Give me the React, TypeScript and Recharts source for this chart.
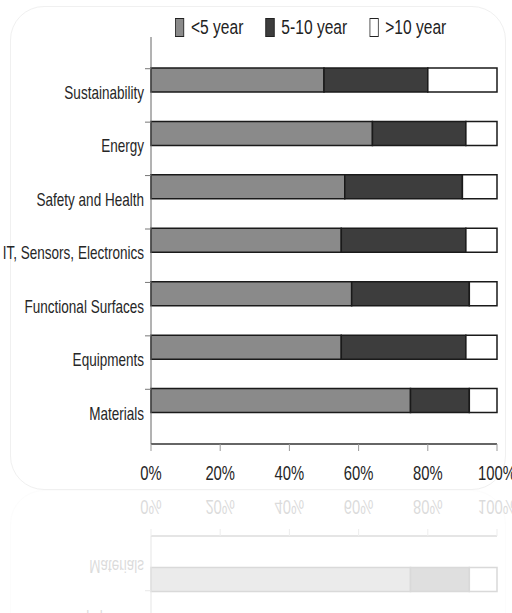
import { BarChart, Bar, XAxis, YAxis } from "recharts"

const categories = [
  "Sustainability",
  "Energy",
  "Safety and Health",
  "IT, Sensors, Electronics",
  "Functional Surfaces",
  "Equipments",
  "Materials",
]
const under5 = [50, 64, 56, 55, 58, 55, 75]
const from5to10 = [30, 27, 34, 36, 34, 36, 17]
const over10 = [20, 9, 10, 9, 8, 9, 8]
const xTicks = [0, 20, 40, 60, 80, 100]

const series = [
  { key: "under5", name: "<5 year", fill: "#8a8a8a" },
  { key: "from5to10", name: "5-10 year", fill: "#3d3d3d" },
  { key: "over10", name: ">10 year", fill: "#ffffff" },
]

const rows = categories.map((name, i) => ({
  name,
  under5: under5[i],
  from5to10: from5to10[i],
  over10: over10[i],
}))

const FONT = "'Liberation Sans', Arial, sans-serif"
// no narrow font installed, so squeeze the regular one
const SQUEEZE = 0.76

function CategoryTick(props: any) {
  const { x, y, payload } = props
  return (
    <g>
      <line x1={x} x2={x + 6} y1={y - 11} y2={y - 11} stroke="#777" strokeWidth={1} />
      <text
        transform={`translate(${x - 1},${y + 13}) scale(${SQUEEZE},1)`}
        dy="0.35em"
        textAnchor="end"
        fill="#262626"
        fontSize={17.8}
        fontFamily={FONT}
      >
        {payload.value}
      </text>
    </g>
  )
}

function PercentTick(props: any) {
  const { x, y, payload } = props
  return (
    <text
      transform={`translate(${x},${y}) scale(${SQUEEZE},1)`}
      dy="0.71em"
      textAnchor="middle"
      fill="#262626"
      fontSize={19.5}
      fontFamily={FONT}
    >
      {`${payload.value}%`}
    </text>
  )
}

function Legend() {
  return (
    <div
      style={{
        position: "absolute",
        top: 15,
        left: 175,
        display: "flex",
        alignItems: "center",
        fontFamily: FONT,
        fontSize: 20.5,
        color: "#222",
        whiteSpace: "nowrap",
        transform: `scaleX(${SQUEEZE})`,
        transformOrigin: "left center",
      }}
    >
      {series.map((s, i) => (
        <div key={s.key} style={{ display: "flex", alignItems: "center", marginRight: i < 2 ? 29 : 0 }}>
          <span
            style={{
              display: "inline-block",
              width: 10,
              height: 17,
              background: s.fill,
              border: "1.5px solid #222",
              marginRight: 9,
            }}
          />
          <span>{s.name}</span>
        </div>
      ))}
    </div>
  )
}

function Chart() {
  return (
    <div style={{ position: "relative", width: 512, height: 490 }}>
      <div
        style={{
          position: "absolute",
          left: 10,
          top: 6,
          width: 494,
          height: 482,
          border: "1px solid #f0f0f0",
          borderRadius: 34,
        }}
      />
      <Legend />
      <BarChart
        layout="vertical"
        width={512}
        height={490}
        data={rows}
        margin={{ top: 37, right: 15, bottom: 0, left: 0 }}
        barSize={24}
        style={{ position: "absolute", top: 0, left: 0 }}
      >
        <XAxis
          type="number"
          domain={[0, 100]}
          ticks={xTicks}
          height={46}
          tickSize={7}
          tickMargin={15}
          axisLine={{ stroke: "#333", strokeWidth: 1.5 }}
          tickLine={{ stroke: "#999" }}
          tick={<PercentTick />}
        />
        <YAxis
          type="category"
          dataKey="name"
          width={151}
          padding={{ top: 16, bottom: 17 }}
          tickSize={0}
          tickMargin={6}
          tickLine={false}
          axisLine={{ stroke: "#666", strokeWidth: 1 }}
          tick={<CategoryTick />}
          interval={0}
        />
        {series.map((s) => (
          <Bar
            key={s.key}
            dataKey={s.key}
            name={s.name}
            stackId="a"
            fill={s.fill}
            stroke="#1a1a1a"
            strokeWidth={1.5}
            isAnimationActive={false}
          />
        ))}
      </BarChart>
    </div>
  )
}

export default function App() {
  return (
    <div
      style={{
        position: "absolute",
        top: 0,
        left: 0,
        width: 512,
        height: 613,
        overflow: "hidden",
        background: "#fff",
      }}
    >
      <Chart />
      <div style={{ position: "absolute", top: 490, left: 0, width: 512, height: 123, overflow: "hidden" }}>
        <div
          style={{
            position: "absolute",
            top: 0,
            left: 0,
            transform: "scaleY(-1)",
            transformOrigin: "center",
            opacity: 0.16,
          }}
        >
          <Chart />
        </div>
      </div>
    </div>
  )
}
